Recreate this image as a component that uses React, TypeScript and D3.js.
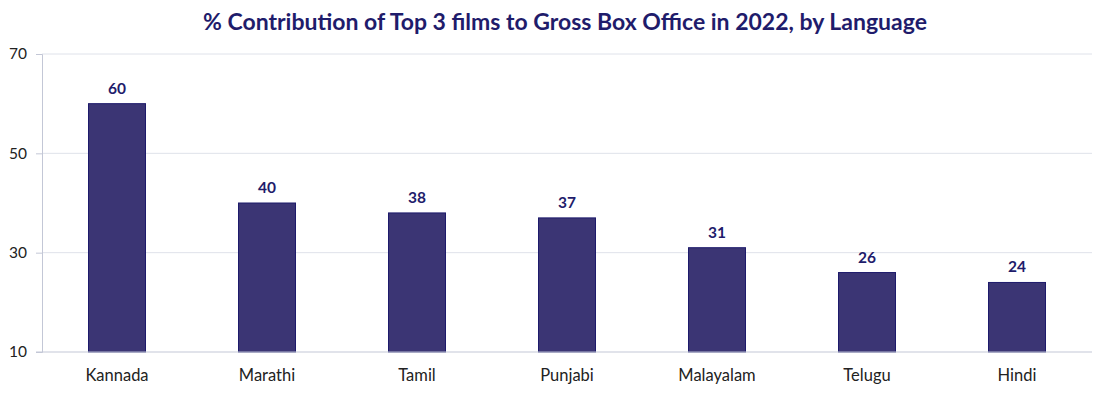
import React, { useEffect, useRef } from 'react';
import * as d3 from 'd3';

const languages = ['Kannada', 'Marathi', 'Tamil', 'Punjabi', 'Malayalam', 'Telugu', 'Hindi'];
const shares = [60, 40, 38, 37, 31, 26, 24];
const yTicks = [10, 30, 50, 70];
const title = '% Contribution of Top 3 films to Gross Box Office in 2022, by Language';

const App = () => {
  const svgRef = useRef<SVGSVGElement>(null);

  useEffect(() => {
    if (!svgRef.current) return;
    const W = 1110, H = 396;
    const margin = { top: 54, right: 18, bottom: 44, left: 42 };
    const width = W - margin.left - margin.right;
    const height = H - margin.top - margin.bottom;
    const font = 'Lato, "Noto Sans", sans-serif';

    const root = d3.select(svgRef.current);
    root.selectAll('*').remove();

    root.append('text')
      .attr('x', 565)
      .attr('y', 30)
      .attr('text-anchor', 'middle')
      .attr('font-family', font)
      .attr('font-weight', 700)
      .attr('font-size', 23)
      .attr('fill', '#1f1c6b')
      .text(title);

    const svg = root.append('g').attr('transform', `translate(${margin.left},${margin.top})`);

    const x = d3.scaleBand()
      .domain(languages)
      .range([0, width])
      .paddingInner(0.62)
      .paddingOuter(0.31);

    const y = d3.scaleLinear().domain([10, 70]).range([height, 0]);

    // gridlines
    svg.selectAll('line.grid')
      .data(yTicks.filter(t => t > 10))
      .enter().append('line')
      .attr('class', 'grid')
      .attr('x1', 0).attr('x2', width)
      .attr('y1', d => y(d)).attr('y2', d => y(d))
      .attr('stroke', '#dfe2ea')
      .attr('stroke-width', 1);

    const data = languages.map((l, i) => ({ lang: l, v: shares[i] }));

    svg.selectAll('rect.bar')
      .data(data)
      .enter().append('rect')
      .attr('class', 'bar')
      .attr('x', d => x(d.lang) || 0)
      .attr('y', d => y(d.v))
      .attr('width', x.bandwidth())
      .attr('height', d => y(10) - y(d.v))
      .attr('fill', '#3b3574')
      .attr('stroke', '#1d1a6b')
      .attr('stroke-width', 1);

    svg.selectAll('text.val')
      .data(data)
      .enter().append('text')
      .attr('class', 'val')
      .attr('x', d => (x(d.lang) || 0) + x.bandwidth() / 2)
      .attr('y', d => y(d.v) - 10)
      .attr('text-anchor', 'middle')
      .attr('font-family', font)
      .attr('font-weight', 700)
      .attr('font-size', 15.5)
      .attr('fill', '#1f1c6b')
      .text(d => d.v);

    // axes
    const yAxis = svg.append('g')
      .call(d3.axisLeft(y).tickValues(yTicks).tickSize(6).tickPadding(9));
    yAxis.select('.domain').attr('stroke', '#c3c7d6');
    yAxis.selectAll('.tick line').attr('stroke', '#c3c7d6');
    yAxis.selectAll('.tick text')
      .attr('font-family', font)
      .attr('font-size', 15.5)
      .attr('fill', '#222');

    const xAxis = svg.append('g')
      .attr('transform', `translate(0,${height})`)
      .call(d3.axisBottom(x).tickSize(0).tickPadding(17));
    xAxis.select('.domain').attr('stroke', '#c3c7d6').attr('d', `M-6,0H${width}`);
    xAxis.selectAll('.tick text')
      .attr('font-family', font)
      .attr('font-size', 16.5)
      .attr('fill', '#222');
  }, []);

  return (
    <div style={{ width: 1110, height: 396, margin: -8 }}>
      <svg ref={svgRef} width={1110} height={396} style={{ display: 'block' }}></svg>
    </div>
  );
};

export default App;
